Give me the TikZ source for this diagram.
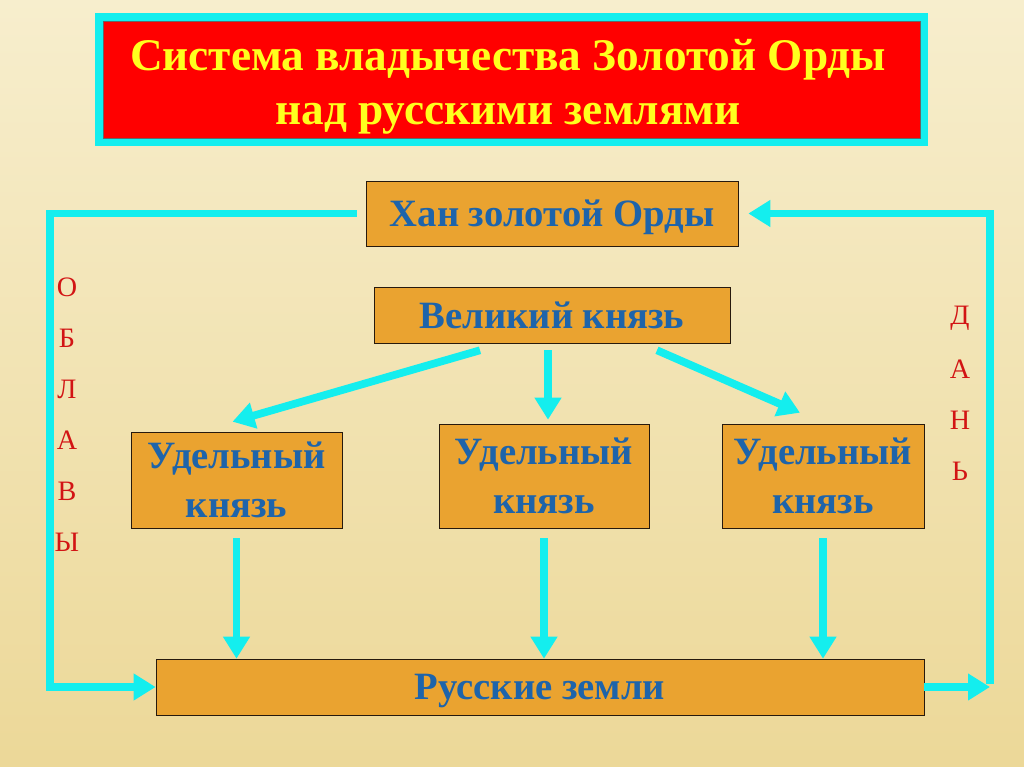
\documentclass[tikz,border=0pt]{standalone}
\usepackage{fontspec}
\setmainfont{Liberation Serif}
\usetikzlibrary{arrows.meta}

\definecolor{aqua}{RGB}{20,238,238}
\definecolor{boxfill}{RGB}{234,163,48}
\definecolor{boxtext}{RGB}{30,100,170}
\definecolor{titlered}{RGB}{255,0,0}
\definecolor{titleyellow}{RGB}{255,255,30}
\definecolor{lettered}{RGB}{210,20,20}

\tikzset{
	box/.style={draw=black!80!brown, fill=boxfill, text=boxtext, inner sep=0pt, align=center,
		font=\bfseries\fontsize{27.5}{35}\selectfont},
	oneline/.style={text depth=0pt},
	twoline/.style={text depth=0.3cm},
	arrowline/.style={draw=aqua, line width=5.5pt, -{Triangle[width=0.64cm,length=0.55cm]}},
	letter/.style={text=lettered, font=\fontsize{20}{24}\selectfont}
}

\begin{document}
\begin{tikzpicture}[x=0.025cm, y=-0.025cm]
		% background
		\fill[top color={rgb,255:red,247;green,238;blue,205}, bottom color={rgb,255:red,236;green,216;blue,152}] (0,0) rectangle (1024,767);

		% title
		\node[draw=aqua, line width=0.2cm, fill=titlered, minimum width=20.6cm, minimum height=3.1cm, inner sep=0pt] (title) at (511.5,79.5) {};
		\draw[black!60, thin] (103,21) rectangle (920,138);
		\node[text=titleyellow, align=center, font=\bfseries\fontsize{32.2}{38}\selectfont] (titletext) at (508,87) {Система владычества Золотой Орды\\над русскими землями};

		% boxes
		\node[box, oneline, minimum width=9.3cm, minimum height=1.625cm] (khan) at (552,213.5) {Хан золотой Орды};
		\node[box, oneline, minimum width=8.9cm, minimum height=1.4cm] (grand) at (552,315) {Великий князь};
		\node[box, minimum width=5.275cm, minimum height=2.4cm] (udelA) at (236.5,480) {Удельный\\князь};
		\node[box, minimum width=5.25cm, minimum height=2.6cm] (udelB) at (544,476) {Удельный\\князь};
		\node[box, minimum width=5.05cm, minimum height=2.6cm] (udelC) at (823,476) {Удельный\\князь};
		\node[box, oneline, minimum width=19.2cm, minimum height=1.4cm] (lands) at (540,687) {Русские земли};

		% side letters
		\foreach \l [count=\i] in {О,Б,Л,А,В,Ы}
			\node[letter] (oblava\i) at (67,{236+51*\i}) {\l};
		\foreach \l [count=\i] in {Д,А,Н,Ь}
			\node[letter] (dan\i) at (960,{267+51*\i}) {\l};

		% arrows from the grand prince
		\draw[arrowline] ([shift={(-72,7)}]grand.south) -- ([shift={(-4,-10)}]udelA.north);
		\draw[arrowline] ([shift={(-4,7)}]grand.south) -- ([shift={(4,-4)}]udelB.north);
		\draw[arrowline] ([shift={(105,7)}]grand.south) -- ([shift={(-23,-11)}]udelC.north);

		% arrows down to the lands
		\foreach \u in {udelA,udelB,udelC}
			\draw[arrowline] ([yshift=-0.25cm]\u.south) -- (\u.south |- lands.north);

		% loops
		\coordinate (loopL) at (50,687);
		\coordinate (loopR) at (990,687);
		\draw[arrowline] ([xshift=-0.22cm]khan.west) -| (loopL) -- (lands.west);
		\draw[arrowline] (lands.east) -- (loopR);
		\draw[arrowline] ([yshift=0.07cm]loopR) |- ([xshift=0.25cm]khan.east);
	\end{tikzpicture}
\end{document}
